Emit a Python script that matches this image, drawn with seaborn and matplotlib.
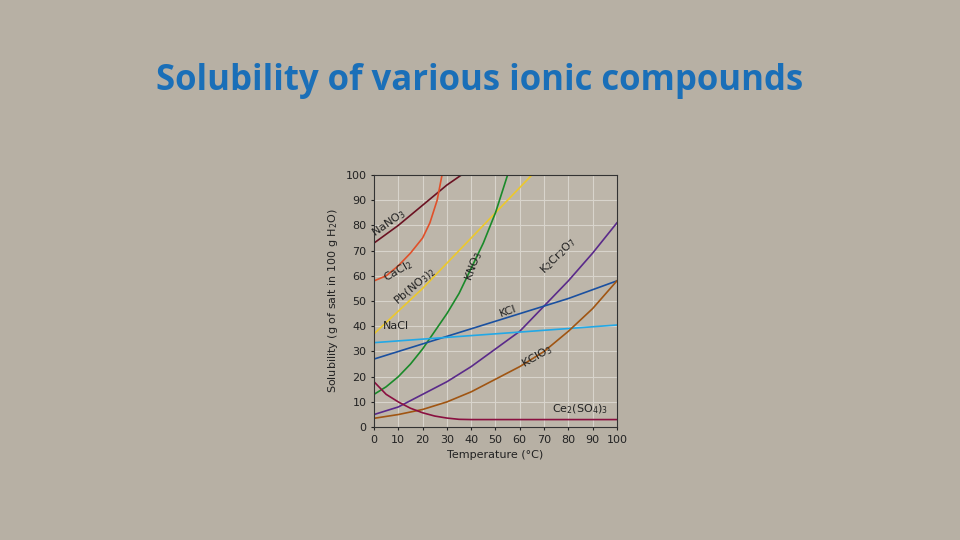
import numpy as np
import pandas as pd
import seaborn as sns
import matplotlib.pyplot as plt

# solubility curves (g salt per 100 g water)
nano3_t = [0, 10, 20, 30, 36]
nano3_s = [73, 80, 88, 96, 100]
cacl2_t = [0, 5, 10, 15, 20, 23, 26, 28]
cacl2_s = [58, 60, 64, 69, 75, 81, 90, 100]
pbno3_t = [0, 10, 20, 30, 40, 50, 60, 65]
pbno3_s = [37, 46, 55, 65, 75, 85, 95, 100]
kno3_t = [0, 5, 10, 15, 20, 25, 30, 35, 40, 45, 50, 55]
kno3_s = [13, 16, 20, 25, 31, 38, 45, 53, 63, 73, 85, 100]
k2cr2o7_t = [0, 10, 20, 30, 40, 50, 60, 70, 80, 90, 100]
k2cr2o7_s = [5, 8, 13, 18, 24, 31, 38, 48, 58, 69, 81]
kcl_t = [0, 20, 40, 60, 80, 100]
kcl_s = [27, 33, 39, 45, 51, 58]
nacl_t = [0, 50, 100]
nacl_s = [33.5, 37, 40.5]
kclo3_t = [0, 10, 20, 30, 40, 50, 60, 70, 80, 90, 100]
kclo3_s = [3.5, 5, 7, 10, 14, 19, 24, 30, 38, 47, 58]
ce_t = [0, 5, 10, 15, 20, 25, 30, 35, 40, 60, 80, 100]
ce_s = [18, 13, 10, 7.5, 5.7, 4.4, 3.6, 3.1, 3, 3, 3, 3]

series = [
    ("NaNO3", nano3_t, nano3_s, "#6b1222"),
    ("CaCl2", cacl2_t, cacl2_s, "#e0502a"),
    ("Pb(NO3)2", pbno3_t, pbno3_s, "#ecc82c"),
    ("KNO3", kno3_t, kno3_s, "#1a8a2a"),
    ("K2Cr2O7", k2cr2o7_t, k2cr2o7_s, "#5a2a8a"),
    ("KCl", kcl_t, kcl_s, "#1a50a0"),
    ("NaCl", nacl_t, nacl_s, "#22a8e6"),
    ("KClO3", kclo3_t, kclo3_s, "#a05512"),
    ("Ce2(SO4)3", ce_t, ce_s, "#8a1040"),
]

rows = []
for name, t, s, c in series:
    for a, b in zip(t, s):
        rows.append({"compound": name, "temp": a, "sol": b})
df = pd.DataFrame(rows)
palette = {name: c for name, t, s, c in series}

bg = "#b7b0a4"
fig = plt.figure(figsize=(9.6, 5.4), dpi=100, facecolor=bg)
ax = fig.add_axes([0.3896, 0.209, 0.253, 0.467])
ax.set_facecolor("#bdb6aa")

sns.lineplot(data=df, x="temp", y="sol", hue="compound", palette=palette,
             legend=False, linewidth=1.2, ax=ax)

ax.set_xlim(0, 100)
ax.set_ylim(0, 100)
ax.set_xticks(range(0, 101, 10))
ax.set_yticks(range(0, 101, 10))
ax.grid(True, color="#d8d4cc", linewidth=0.8)
ax.set_axisbelow(True)
for sp in ax.spines.values():
    sp.set_color("#333333")
    sp.set_linewidth(0.8)
ax.tick_params(labelsize=8, colors="#222222", length=2)
ax.set_xlabel("Temperature (°C)", fontsize=8, color="#222222")
ax.set_ylabel("Solubility (g of salt in 100 g H$_2$O)", fontsize=8, color="#222222")

labels = [
    (6, 81, r"NaNO$_3$", 35),
    (10, 62, r"CaCl$_2$", 30),
    (17, 56, r"Pb(NO$_3$)$_2$", 40),
    (41, 64, r"KNO$_3$", 70),
    (76, 68, r"K$_2$Cr$_2$O$_7$", 45),
    (55, 46, "KCl", 20),
    (9, 40, "NaCl", 0),
    (67, 28, r"KClO$_3$", 30),
    (85, 7, r"Ce$_2$(SO$_4$)$_3$", 0),
]
for x, y, txt, rot in labels:
    ax.text(x, y, txt, fontsize=8, rotation=rot, ha="center", va="center", color="#222222")

fig.text(0.50, 0.85, "Solubility of various ionic compounds", ha="center", va="center",
         fontsize=25, fontweight="bold", color="#1a6fb8", family="Open Sans")

fig.savefig("out.png", dpi=100, facecolor=bg)
